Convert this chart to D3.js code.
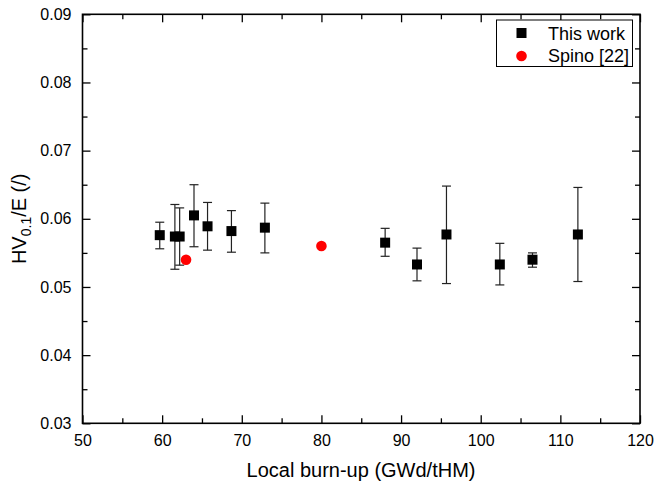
<!DOCTYPE html>
<html>
<head>
<meta charset="utf-8">
<script src="https://cdn.jsdelivr.net/npm/d3@7"></script>
<style>
body { margin: 0; background: #fff; }
text { font-family: "Liberation Sans", Arial, sans-serif; }
.axis path, .axis line { stroke: #000; }
</style>
</head>
<body>
<script>
'use strict'
// This work: local burn-up, HV0.1/E and error bar limits
const burnup = [59.7, 61.6, 62.2, 64.0, 65.7, 68.7, 72.9, 88.0, 92.0, 95.7, 102.4, 106.5, 112.2];
const hvE = [0.0576, 0.0574, 0.0574, 0.0605, 0.0589, 0.0582, 0.0587, 0.0565, 0.0533, 0.0577, 0.0533, 0.0540, 0.0577];
const errUpper = [0.0595, 0.0621, 0.0616, 0.0650, 0.0624, 0.0612, 0.0623, 0.0586, 0.0557, 0.0648, 0.0564, 0.0550, 0.0646];
const errLower = [0.0556, 0.0526, 0.0532, 0.0559, 0.0554, 0.0551, 0.0550, 0.0545, 0.0509, 0.0505, 0.0503, 0.0529, 0.0508];

// Spino [22]
const spinoBurnup = [63.0, 80.0];
const spinoHvE = [0.0540, 0.0560];

const xTicks = [50, 60, 70, 80, 90, 100, 110, 120];
const yTicks = [0.03, 0.04, 0.05, 0.06, 0.07, 0.08, 0.09];
const legendLabels = ["This work", "Spino [22]"];

const w = 656;
const h = 485;
const pLeft = 82.5, pRight = 640, pTop = 14.3, pBottom = 423.3;

const xScale = d3.scaleLinear().domain([50, 120]).range([pLeft, pRight]);
const yScale = d3.scaleLinear().domain([0.03, 0.09]).range([pBottom, pTop]);

const svg = d3.select("body")
	.append("svg")
	.attr("width", w)
	.attr("height", h);

const xMinor = d3.range(55, 120, 10);
const yMinor = d3.range(0.035, 0.09, 0.01);

// major + minor ticks, pointing inward
function drawAxes(axisFn, scale, transform, major, minor, labels) {
	const g = svg.append("g").attr("class", "axis").attr("transform", transform);
	g.call(axisFn(scale).tickValues(minor).tickSize(-5).tickFormat(""));
	g.select(".domain").remove();
	const g2 = svg.append("g").attr("class", "axis").attr("transform", transform);
	g2.call(axisFn(scale).tickValues(major).tickSize(-8).tickPadding(11)
		.tickFormat(labels ? (d) => d3.format(".2~f")(d) : ""));
	g2.select(".domain").remove();
	return g2;
}

const xa = drawAxes(d3.axisBottom, xScale, "translate(0," + pBottom + ")", xTicks, xMinor, true);
xa.selectAll("text").attr("font-size", 16).attr("fill", "#000");
drawAxes(d3.axisTop, xScale, "translate(0," + pTop + ")", xTicks, xMinor, false);
const ya = drawAxes(d3.axisLeft, yScale, "translate(" + pLeft + ",0)", yTicks, yMinor, true);
ya.selectAll("text").attr("font-size", 16).attr("fill", "#000")
	.text((d) => d3.format(".2f")(d));
drawAxes(d3.axisRight, yScale, "translate(" + pRight + ",0)", yTicks, yMinor, false);

svg.selectAll(".tick line").attr("stroke-width", 1.3);

// frame
svg.append("rect")
	.attr("x", pLeft).attr("y", pTop)
	.attr("width", pRight - pLeft).attr("height", pBottom - pTop)
	.attr("fill", "none").attr("stroke", "#000").attr("stroke-width", 1.6);

// error bars
const eb = svg.append("g").attr("stroke", "#222").attr("stroke-width", 1.2);
burnup.forEach((b, i) => {
	const x = xScale(b);
	eb.append("line").attr("x1", x).attr("x2", x)
		.attr("y1", yScale(errUpper[i])).attr("y2", yScale(errLower[i]));
	[errUpper[i], errLower[i]].forEach((v) => {
		eb.append("line").attr("x1", x - 4.5).attr("x2", x + 4.5)
			.attr("y1", yScale(v)).attr("y2", yScale(v));
	});
});

// squares
svg.selectAll("rect.pt")
	.data(burnup)
	.enter()
	.append("rect")
	.attr("class", "pt")
	.attr("x", (d) => xScale(d) - 5)
	.attr("y", (d, i) => yScale(hvE[i]) - 5)
	.attr("width", 10)
	.attr("height", 10)
	.attr("fill", "#000");

// Spino circles
svg.selectAll("circle.sp")
	.data(spinoBurnup)
	.enter()
	.append("circle")
	.attr("class", "sp")
	.attr("cx", (d) => xScale(d))
	.attr("cy", (d, i) => yScale(spinoHvE[i]))
	.attr("r", 5.3)
	.attr("fill", "#ff0000");

// legend
const lg = svg.append("g");
lg.append("rect")
	.attr("x", 496.5).attr("y", 20)
	.attr("width", 136).attr("height", 46.5)
	.attr("fill", "#fff").attr("stroke", "#000").attr("stroke-width", 1);
lg.append("rect").attr("x", 516.5).attr("y", 28).attr("width", 10).attr("height", 10).attr("fill", "#000");
lg.append("circle").attr("cx", 521.5).attr("cy", 56).attr("r", 5.3).attr("fill", "#ff0000");
lg.selectAll("text.lg")
	.data(legendLabels)
	.enter()
	.append("text")
	.attr("class", "lg")
	.attr("x", 548)
	.attr("y", (d, i) => 39.5 + i * 22.5)
	.attr("font-size", 18)
	.text((d) => d);

// axis titles
svg.append("text")
	.attr("x", 361)
	.attr("y", 477)
	.attr("text-anchor", "middle")
	.attr("font-size", 20)
	.text("Local burn-up (GWd/tHM)");

const yt = svg.append("text")
	.attr("transform", "translate(25.5," + ((pTop + pBottom) / 2) + ") rotate(-90)")
	.attr("text-anchor", "middle")
	.attr("font-size", 20);
yt.append("tspan").text("HV");
yt.append("tspan").attr("font-size", 14).attr("dy", 5).text("0.1");
yt.append("tspan").attr("dy", -5).text("/E (/)");
</script>
</body>
</html>
